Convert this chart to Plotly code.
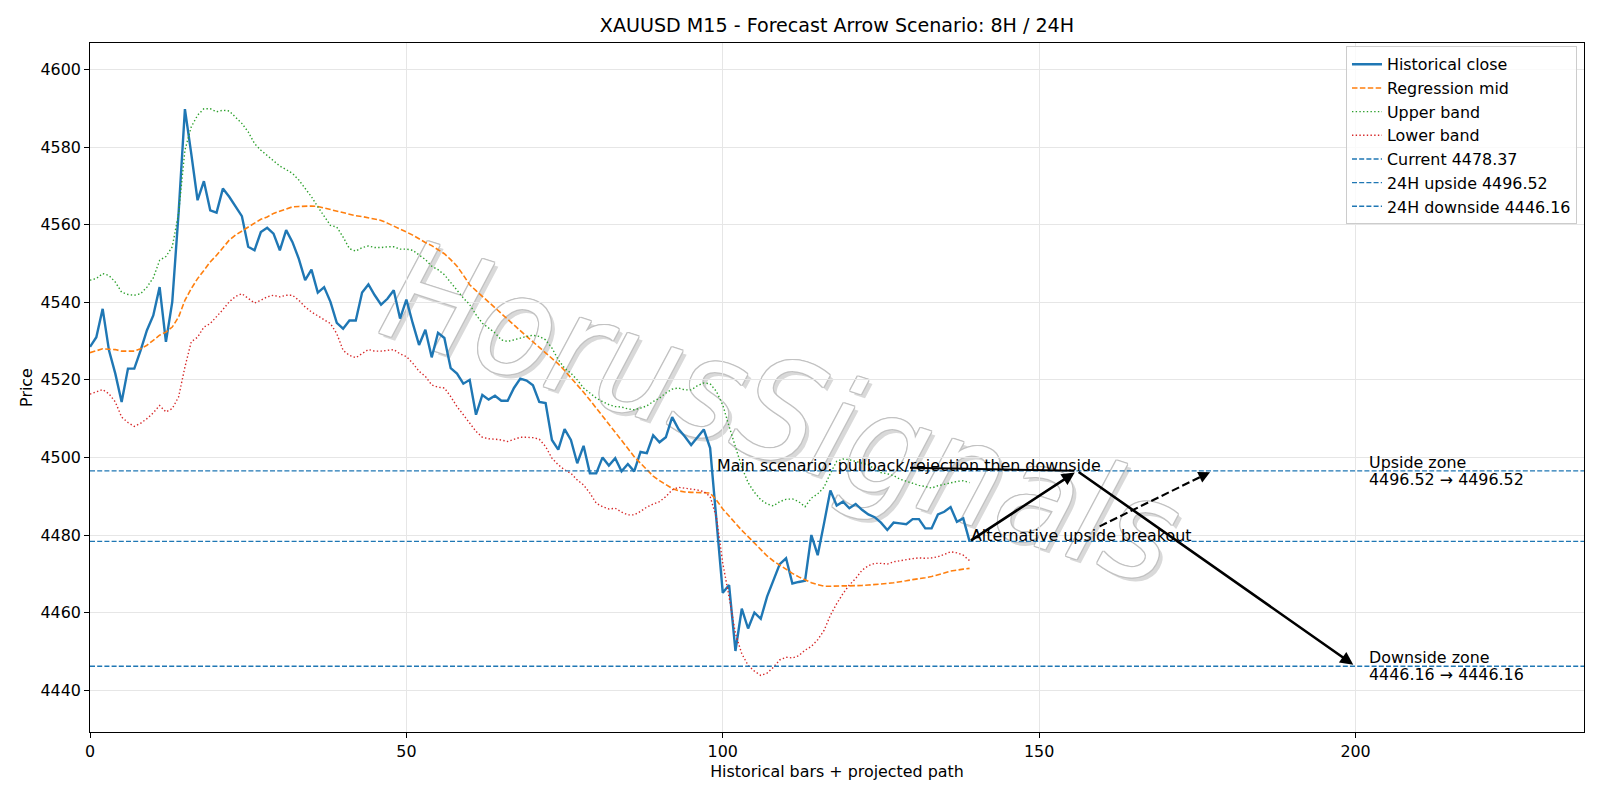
import plotly.graph_objects as go

# ---------------- data ----------------
bars = list(range(140))

close = [4528.5, 4531.0, 4538.3, 4527.6, 4521.6, 4514.3, 4522.9, 4522.9, 4527.6, 4532.8,
         4536.6, 4543.9, 4529.8, 4540.1, 4563.0, 4589.8, 4578.3, 4566.3, 4571.2, 4563.7,
         4563.1, 4569.3, 4567.2, 4564.8, 4562.2, 4554.3, 4553.4, 4558.1, 4559.2, 4557.7,
         4553.4, 4558.6, 4555.5, 4551.2, 4545.7, 4548.4, 4542.5, 4543.9, 4540.1, 4534.7,
         4533.2, 4535.3, 4535.3, 4542.5, 4544.6, 4541.8, 4539.4, 4540.9, 4543.1, 4535.8,
         4540.7, 4534.6, 4529.0, 4532.9, 4525.8, 4532.1, 4530.8, 4523.0, 4521.6, 4519.0,
         4520.0, 4511.0, 4516.1, 4514.9, 4515.9, 4514.6, 4514.6, 4517.9, 4520.3, 4519.8,
         4518.6, 4514.3, 4514.0, 4504.5, 4502.0, 4507.3, 4504.5, 4498.5, 4503.0, 4495.9,
         4495.9, 4500.0, 4497.9, 4499.8, 4496.4, 4498.3, 4496.4, 4501.4, 4501.1, 4505.7,
         4503.9, 4505.2, 4510.4, 4507.3, 4505.4, 4503.2, 4505.3, 4507.2, 4502.4, 4483.8,
         4465.1, 4467.1, 4450.1, 4461.0, 4455.9, 4460.0, 4458.4, 4464.1, 4468.4, 4472.5,
         4474.0, 4467.5, 4467.9, 4468.2, 4480.0, 4474.8, 4483.0, 4491.5, 4487.6, 4488.6,
         4486.9, 4488.0, 4486.5, 4485.3, 4484.6, 4483.2, 4481.3, 4483.2, 4483.0, 4482.8,
         4484.1, 4484.1, 4481.7, 4481.7, 4485.3, 4486.0, 4487.2, 4483.4, 4484.3, 4478.37]

mid = [4527.0, 4527.6, 4528.0, 4527.9, 4527.8, 4527.4, 4527.4, 4527.4, 4528.0, 4528.9,
       4530.2, 4531.5, 4532.3, 4533.6, 4536.2, 4540.5, 4543.5, 4546.1, 4548.2, 4550.4,
       4552.1, 4554.1, 4556.0, 4557.3, 4558.4, 4559.4, 4560.4, 4561.4, 4562.0, 4562.9,
       4563.5, 4564.1, 4564.6, 4564.7, 4564.8, 4564.8, 4564.7, 4564.3, 4563.9, 4563.5,
       4563.0, 4562.6, 4562.3, 4562.1, 4561.8, 4561.5, 4561.1, 4560.4, 4559.7, 4559.0,
       4558.1, 4557.3, 4556.3, 4555.4, 4554.6, 4553.6, 4552.5, 4551.0, 4549.3, 4547.0,
       4544.5, 4543.0, 4541.5, 4540.2, 4538.7, 4537.2, 4535.7, 4534.2, 4532.7, 4531.2,
       4529.8, 4528.4, 4527.0, 4525.6, 4524.1, 4522.4, 4520.6, 4518.7, 4516.8, 4514.8,
       4512.8, 4510.7, 4508.6, 4506.5, 4504.4, 4502.3, 4500.2, 4498.5, 4496.8, 4495.2,
       4494.0, 4492.9, 4492.0, 4491.4, 4491.1, 4491.0, 4491.0, 4490.9, 4490.8, 4489.0,
       4486.7, 4484.8, 4483.0, 4481.2, 4479.6, 4477.9, 4476.3, 4474.6, 4473.3, 4472.2,
       4471.1, 4470.1, 4469.2, 4468.4, 4467.7, 4467.2, 4466.8, 4466.8, 4466.9, 4466.9,
       4466.9, 4466.9, 4467.0, 4467.1, 4467.2, 4467.3, 4467.5, 4467.7, 4467.9, 4468.2,
       4468.5, 4468.7, 4469.0, 4469.3, 4469.7, 4470.2, 4470.7, 4471.0, 4471.2, 4471.4]

upper = [4545.7, 4546.1, 4547.4, 4546.9, 4545.2, 4542.6, 4542.0, 4541.8, 4542.2, 4543.9,
         4546.3, 4550.8, 4551.8, 4554.3, 4562.9, 4579.2, 4585.2, 4588.2, 4589.9, 4589.9,
         4589.1, 4589.5, 4589.3, 4587.8, 4586.1, 4583.9, 4580.9, 4579.2, 4577.9, 4576.6,
         4575.1, 4574.2, 4573.2, 4571.5, 4569.3, 4567.2, 4564.6, 4562.2, 4559.8, 4559.4,
         4556.8, 4553.8, 4553.2, 4554.1, 4554.5, 4554.1, 4554.1, 4554.3, 4554.3, 4553.7,
         4553.7, 4553.4, 4552.3, 4551.0, 4549.3, 4548.4, 4547.1, 4545.0, 4543.2, 4541.1,
         4539.4, 4536.8, 4534.6, 4533.3, 4532.1, 4530.3, 4529.9, 4530.3, 4530.8, 4531.2,
         4531.5, 4531.2, 4530.3, 4528.2, 4525.2, 4523.0, 4521.7, 4520.0, 4517.9, 4516.6,
         4515.3, 4514.4, 4513.6, 4513.1, 4513.0, 4512.5, 4512.3, 4512.7, 4513.3, 4514.4,
         4515.3, 4516.6, 4517.6, 4517.9, 4517.4, 4517.4, 4518.5, 4519.2, 4519.0, 4517.0,
         4513.5, 4508.0, 4503.0, 4497.5, 4493.5, 4491.0, 4489.1, 4488.0, 4487.5, 4488.6,
         4489.2, 4489.3, 4488.6, 4487.3, 4489.5, 4490.6, 4492.3, 4495.9, 4499.0, 4499.6,
         4499.4, 4499.0, 4498.5, 4498.1, 4497.0, 4496.1, 4495.8, 4495.3, 4494.4, 4493.8,
         4493.4, 4492.8, 4492.5, 4492.1, 4492.7, 4493.1, 4493.4, 4493.8, 4494.0, 4493.5]

lower = [4516.3, 4516.9, 4517.5, 4516.4, 4514.3, 4510.4, 4509.0, 4508.0, 4508.8, 4510.0,
         4511.5, 4513.4, 4511.7, 4512.6, 4515.6, 4523.3, 4529.8, 4531.0, 4533.6, 4534.5,
         4536.2, 4538.1, 4540.1, 4541.5, 4542.2, 4540.9, 4539.8, 4540.5, 4541.4, 4541.8,
         4541.4, 4541.8, 4541.8, 4540.5, 4538.8, 4537.5, 4536.6, 4535.5, 4534.5, 4531.9,
         4527.6, 4526.3, 4525.7, 4526.7, 4527.8, 4527.4, 4527.4, 4527.6, 4527.8, 4526.7,
         4526.0, 4524.3, 4522.2, 4520.9, 4518.7, 4518.1, 4517.9, 4515.7, 4513.1, 4511.0,
         4508.8, 4506.7, 4505.2, 4504.8, 4504.7, 4504.5, 4504.1, 4504.7, 4505.2, 4505.2,
         4505.1, 4504.7, 4502.8, 4499.8, 4498.1, 4496.8, 4495.9, 4494.2, 4492.9, 4490.8,
         4488.2, 4487.3, 4486.7, 4486.9, 4485.9, 4485.2, 4485.2, 4486.1, 4487.2, 4488.0,
         4488.6, 4489.9, 4491.6, 4492.3, 4492.1, 4491.8, 4491.6, 4491.2, 4489.9, 4484.5,
         4472.7, 4464.0, 4454.6, 4449.4, 4446.4, 4444.9, 4443.8, 4444.4, 4445.9, 4447.8,
         4448.5, 4448.3, 4448.9, 4450.3, 4451.3, 4453.0, 4455.4, 4459.3, 4462.3, 4464.9,
         4467.1, 4468.8, 4470.9, 4472.1, 4472.7, 4472.7, 4472.5, 4473.1, 4473.4, 4473.7,
         4473.9, 4474.1, 4474.0, 4474.1, 4474.4, 4475.0, 4475.7, 4475.4, 4474.8, 4473.4]

CURRENT = 4478.37
UP_24H = 4496.52
DN_24H = 4446.16

# projected path (bar index of each node)
SCEN_START = 139
SCEN_PIVOT = 156
SCEN_END = 200
ALT_END = 177.4
ZONE_LABEL_X = 202
MAIN_TEXT_X = 99

X_RANGE = [0, 236.1]
Y_RANGE = [4429.22, 4606.83]
X_TICKS = [0, 50, 100, 150, 200]
Y_TICKS = [4440, 4460, 4480, 4500, 4520, 4540, 4560, 4580, 4600]

TITLE = "XAUUSD M15 - Forecast Arrow Scenario: 8H / 24H"
WATERMARK = "HorusSignals"
WM_POS = (109.8, 4514.0)

# ---------------- layout geometry ----------------
W, H = 1600, 800
ML, MR, MT, MB = 90, 16, 43, 68
plot_w = W - ML - MR
plot_h = H - MT - MB
py = plot_h / (Y_RANGE[1] - Y_RANGE[0])   # px per price unit
px = plot_w / (X_RANGE[1] - X_RANGE[0])   # px per bar

FONT = "DejaVu Sans"
FS = 15.9

fig = go.Figure()

fig.add_trace(go.Scatter(x=bars, y=close, mode="lines", name="Historical close",
                         line=dict(color="#1f77b4", width=2.4)))
fig.add_trace(go.Scatter(x=bars, y=mid, mode="lines", name="Regression mid",
                         line=dict(color="#ff7f0e", width=1.6, dash="5.5px,2.4px")))
fig.add_trace(go.Scatter(x=bars, y=upper, mode="lines", name="Upper band",
                         line=dict(color="#2ca02c", width=1.4, dash="1.4px,2.3px")))
fig.add_trace(go.Scatter(x=bars, y=lower, mode="lines", name="Lower band",
                         line=dict(color="#d62728", width=1.4, dash="1.4px,2.3px")))

for val, label in [(CURRENT, f"Current {CURRENT:.2f}"),
                   (UP_24H, f"24H upside {UP_24H:.2f}"),
                   (DN_24H, f"24H downside {DN_24H:.2f}")]:
    fig.add_shape(type="line", xref="paper", x0=0, x1=1, yref="y", y0=val, y1=val,
                  line=dict(color="#1f77b4", width=1.4, dash="5px,2.2px"),
                  layer="above", showlegend=True, name=label)


# watermark: hollow outlined text built from offset copies, placed under the data
WM_FONT = "Liberation Sans Narrow, DejaVu Sans Condensed, Liberation Sans"


def wm_copy(dxp, dyp, color):
    cx = WM_POS[0] + dxp / px
    cy = WM_POS[1] - dyp / py
    fig.add_shape(type="rect", xref="x", yref="y",
                  x0=cx - 0.01, x1=cx + 0.01, y0=cy - 0.01, y1=cy + 0.01,
                  line=dict(width=0), fillcolor="rgba(0,0,0,0)", layer="below",
                  label=dict(text=WATERMARK, textangle=18, textposition="middle center",
                             padding=0,
                             font=dict(family=WM_FONT, size=140, color=color, style="italic")))


wm_copy(4, 4, "#d9d9d9")
for ox, oy in [(-1, -1), (0, -1), (1, -1), (-1, 0), (1, 0), (-1, 1), (0, 1), (1, 1)]:
    wm_copy(ox, oy, "#c2c2c2")
wm_copy(0, 0, "#ffffff")

# main scenario arrows
fig.add_annotation(x=SCEN_PIVOT, y=UP_24H, ax=SCEN_START, ay=CURRENT,
                   xref="x", yref="y", axref="x", ayref="y", text="", showarrow=True,
                   arrowhead=2, arrowsize=1.0, arrowwidth=2.6, arrowcolor="black",
                   standoff=2.8, startstandoff=0)
fig.add_annotation(x=SCEN_END, y=DN_24H, ax=SCEN_PIVOT, ay=UP_24H,
                   xref="x", yref="y", axref="x", ayref="y", text="", showarrow=True,
                   arrowhead=2, arrowsize=1.0, arrowwidth=2.6, arrowcolor="black",
                   standoff=2.8, startstandoff=0)

# main scenario label + its connector from the text centre
main_text = "Main scenario: pullback/rejection then downside"
main_text_w = 384 / px
fig.add_annotation(x=SCEN_PIVOT, y=UP_24H, ax=MAIN_TEXT_X + main_text_w / 2, ay=UP_24H + 3.2 / py,
                   xref="x", yref="y", axref="x", ayref="y", text="", showarrow=True,
                   arrowhead=0, arrowwidth=2.0, arrowcolor="black", standoff=2.8, startstandoff=0)
fig.add_annotation(x=MAIN_TEXT_X, y=UP_24H, xref="x", yref="y", text=main_text,
                   showarrow=False, xanchor="left", yanchor="middle", yshift=5.5, xshift=-1,
                   font=dict(family=FONT, size=FS, color="black"))

# alternative scenario (dashed)
alt_text = "Alternative upside breakout"
alt_w = 219.4 / px
alt_cx = SCEN_START + alt_w / 2
alt_cy = CURRENT + 5.0 / py
t0 = ((CURRENT + 15.0 / py) - alt_cy) / (UP_24H - alt_cy)
alt_x0 = alt_cx + t0 * (ALT_END - alt_cx)
alt_y0 = alt_cy + t0 * (UP_24H - alt_cy)
dxp = (ALT_END - alt_cx) * px
dyp = (UP_24H - alt_cy) * py
L = (dxp ** 2 + dyp ** 2) ** 0.5
ux, uy = dxp / L, dyp / L
fig.add_shape(type="line", xref="x", yref="y", x0=alt_x0, y0=alt_y0,
              x1=ALT_END - ux * 8 / px, y1=UP_24H - uy * 8 / py,
              line=dict(color="black", width=2.1, dash="8px,3.5px"), layer="above")
fig.add_annotation(x=ALT_END, y=UP_24H, ax=-ux * 14, ay=uy * 14, text="", showarrow=True,
                   xref="x", yref="y", arrowhead=2, arrowsize=1.1, arrowwidth=2.1,
                   arrowcolor="black", standoff=2.8, startstandoff=0)
fig.add_annotation(x=SCEN_START, y=CURRENT, xref="x", yref="y", text=alt_text,
                   showarrow=False, xanchor="left", yanchor="middle", yshift=5.5, xshift=-1,
                   font=dict(family=FONT, size=FS, color="black"))

# zone labels (two lines each, matplotlib-like line spacing)
for val, head in [(UP_24H, "Upside zone"), (DN_24H, "Downside zone")]:
    for txt, shift in [(head, 8.3), (f"{val:.2f} → {val:.2f}", -8.3)]:
        fig.add_annotation(x=ZONE_LABEL_X, y=val, xref="x", yref="y", text=txt,
                           showarrow=False, xanchor="left", yanchor="middle", align="left",
                           xshift=-1, yshift=shift,
                           font=dict(family=FONT, size=FS, color="black"))

axis_common = dict(showline=True, linecolor="black", linewidth=1.1, mirror=True,
                   ticks="outside", ticklen=4.9, tickwidth=1.1, tickcolor="black",
                   showgrid=True, gridcolor="#e6e6e6", gridwidth=1.1, zeroline=False,
                   tickfont=dict(family=FONT, size=FS, color="black"))

fig.update_layout(
    width=W, height=H,
    margin=dict(l=ML, r=MR, t=MT, b=MB),
    paper_bgcolor="white", plot_bgcolor="white",
    font=dict(family=FONT, size=FS, color="black"),
    title=dict(text=TITLE, x=(ML + plot_w / 2) / W, xanchor="center",
               y=1 - 25.5 / H, yanchor="middle",
               font=dict(family=FONT, size=19.1, color="black")),
    xaxis=dict(range=X_RANGE, tickvals=X_TICKS,
               title=dict(text="Historical bars + projected path", standoff=5,
                          font=dict(family=FONT, size=FS, color="black")),
               **axis_common),
    yaxis=dict(range=Y_RANGE, tickvals=Y_TICKS,
               title=dict(text="Price", standoff=3,
                          font=dict(family=FONT, size=FS, color="black")),
               **axis_common),
    legend=dict(x=0.9953, y=0.995, xanchor="right", yanchor="top",
                bgcolor="rgba(255,255,255,0.8)", bordercolor="#cccccc", borderwidth=1,
                font=dict(family=FONT, size=FS, color="black")),
    showlegend=True,
)

fig.write_html("out.html")
